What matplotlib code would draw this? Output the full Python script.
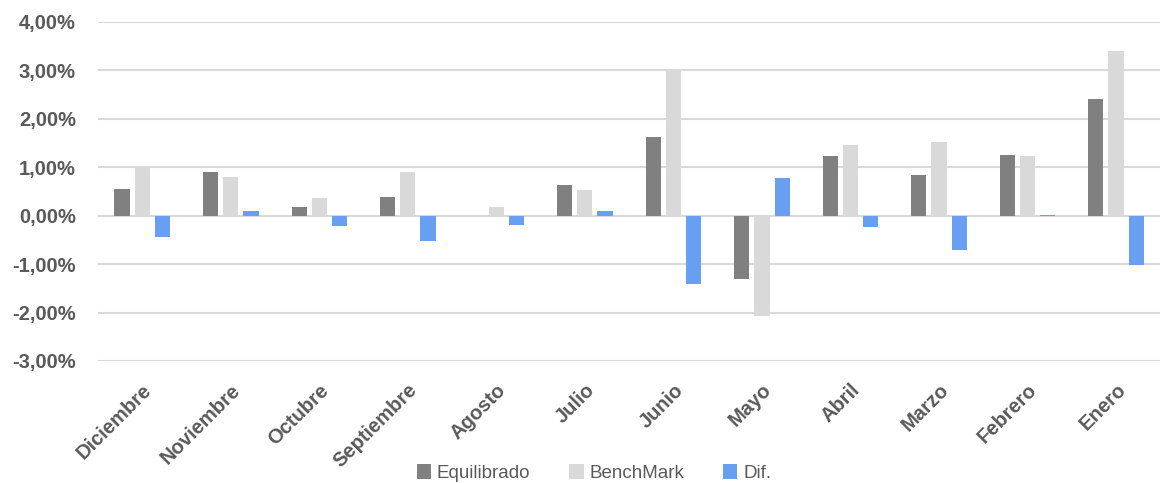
import numpy as np
import matplotlib.pyplot as plt
from matplotlib.ticker import FuncFormatter

meses = ["Diciembre", "Noviembre", "Octubre", "Septiembre", "Agosto", "Julio",
         "Junio", "Mayo", "Abril", "Marzo", "Febrero", "Enero"]
equilibrado = [0.55, 0.90, 0.17, 0.39, 0.00, 0.64, 1.62, -1.30, 1.24, 0.83, 1.26, 2.40]
benchmark = [1.00, 0.79, 0.36, 0.90, 0.18, 0.53, 3.02, -2.08, 1.46, 1.53, 1.24, 3.41]
dif = [-0.43, 0.10, -0.21, -0.52, -0.19, 0.10, -1.41, 0.77, -0.24, -0.70, 0.02, -1.02]

gris_txt = "#595959"
plt.rcParams['font.family'] = ['Liberation Sans', 'DejaVu Sans']

fig = plt.figure(figsize=(11.61, 4.83), dpi=100)
ax = fig.add_axes([0.0844, 0.2526, 0.915, 0.702])

x = np.arange(len(meses))
w = 0.172
step = 0.228
ax.bar(x - step, equilibrado, w, color="#808080", label="Equilibrado", zorder=3)
ax.bar(x, benchmark, w, color="#d9d9d9", label="BenchMark", zorder=3)
ax.bar(x + step, dif, w, color="#699ff2", label="Dif.", zorder=3)

ax.set_xlim(-0.5, len(meses) - 0.5)
ax.set_ylim(-3, 4)
ax.set_yticks(range(-3, 5))
ax.yaxis.set_major_formatter(FuncFormatter(lambda v, p: f"{v:.2f}%".replace(".", ",")))
ax.grid(axis="y", color="#d9d9d9", linewidth=1.5, zorder=0)
for s in ax.spines.values():
    s.set_visible(False)
ax.tick_params(axis="both", length=0, colors=gris_txt)
ax.tick_params(axis="y", pad=16)
for t in ax.get_yticklabels():
    t.set_fontsize(14.5)
    t.set_fontweight("bold")

ax.set_xticks(x)
ax.set_xticklabels(meses, rotation=45, ha="right", rotation_mode="anchor",
                   fontsize=14.5, fontweight="bold", color=gris_txt)
ax.tick_params(axis="x", pad=14)

leg = ax.legend(loc="center", bbox_to_anchor=(0.467, -0.33), ncol=3, frameon=False,
                fontsize=13.5, handlelength=0.75, handleheight=0.9, handletextpad=0.3,
                columnspacing=2.1, borderpad=0)
for t in leg.get_texts():
    t.set_color(gris_txt)

fig.savefig("out.png", dpi=100)
